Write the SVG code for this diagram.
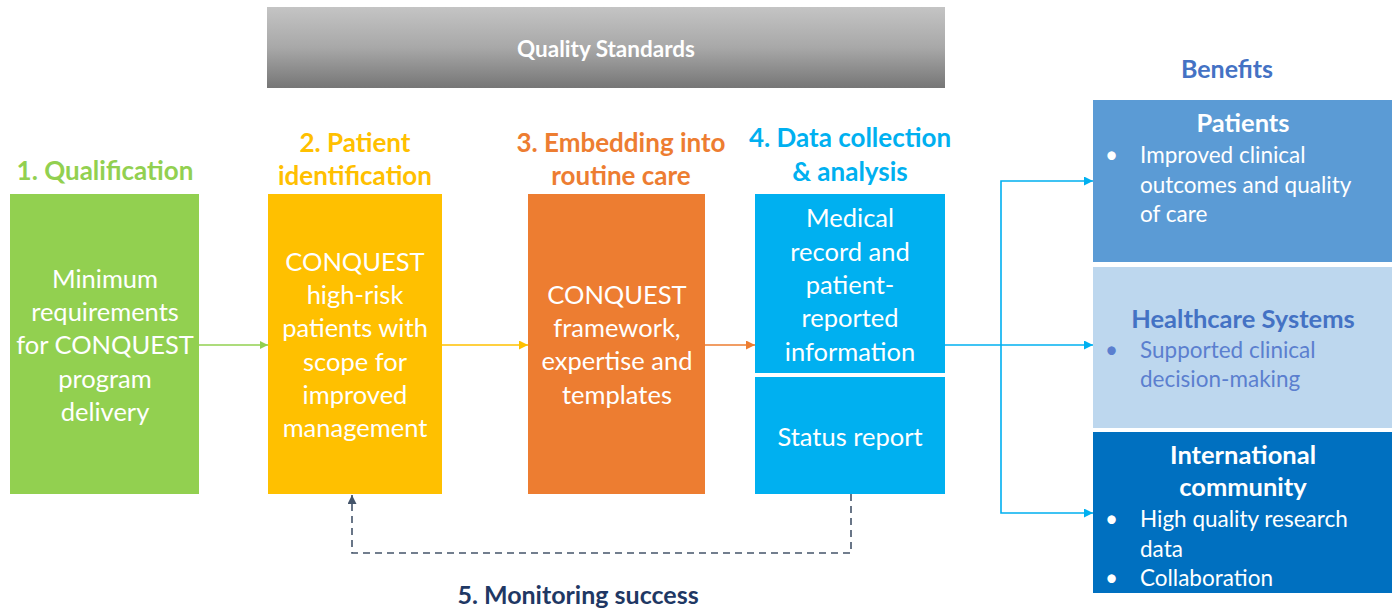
<svg xmlns="http://www.w3.org/2000/svg" width="1397" height="609" viewBox="0 0 1397 609">
<defs>
<linearGradient id="qs" x1="0" y1="0" x2="0" y2="1">
<stop offset="0" stop-color="#c4c4c4"/>
<stop offset="0.5" stop-color="#a8a8a8"/>
<stop offset="1" stop-color="#767676"/>
</linearGradient>
<marker id="ag" viewBox="0 0 10 10" refX="10" refY="5" markerWidth="8" markerHeight="8" markerUnits="userSpaceOnUse" orient="auto"><path d="M0,0 L10,5 L0,10 z" fill="#92d050"/></marker>
<marker id="ay" viewBox="0 0 10 10" refX="10" refY="5" markerWidth="9" markerHeight="9" markerUnits="userSpaceOnUse" orient="auto"><path d="M0,0 L10,5 L0,10 z" fill="#ffc000"/></marker>
<marker id="ao" viewBox="0 0 10 10" refX="10" refY="5" markerWidth="9" markerHeight="9" markerUnits="userSpaceOnUse" orient="auto"><path d="M0,0 L10,5 L0,10 z" fill="#ed7d31"/></marker>
<marker id="ab" viewBox="0 0 10 10" refX="10" refY="5" markerWidth="9" markerHeight="9" markerUnits="userSpaceOnUse" orient="auto"><path d="M0,0 L10,5 L0,10 z" fill="#00b0f0"/></marker>
<marker id="an" viewBox="0 0 10 10" refX="10" refY="5" markerWidth="9" markerHeight="9" markerUnits="userSpaceOnUse" orient="auto"><path d="M0,0 L10,5 L0,10 z" fill="#44546a"/></marker>
</defs>
<style>
text{font-family:Lato,"Liberation Sans",sans-serif}
.h{font-size:26px;font-weight:bold;text-anchor:middle}
.b{font-size:25.5px;fill:#ffffff;text-anchor:middle}
.bt{font-size:25.5px;font-weight:bold;text-anchor:middle}
.bl{font-size:22.5px}
.c{fill:none;stroke-width:1.6}
</style>
<rect width="1397" height="609" fill="#ffffff"/>

<g id="quality">
<rect x="267" y="7" width="678" height="81" fill="url(#qs)"/>
<text x="606" y="57" font-size="22.5" font-weight="bold" fill="#ffffff" text-anchor="middle">Quality Standards</text>
</g>

<g id="n1">
<text class="h" x="105" y="180" fill="#92d050">1. Qualification</text>
<rect x="10" y="194" width="189" height="300" fill="#92d050"/>
<text class="b" x="105" y="288">Minimum</text>
<text class="b" x="105" y="321">requirements</text>
<text class="b" x="105" y="354">for CONQUEST</text>
<text class="b" x="105" y="388">program</text>
<text class="b" x="105" y="421">delivery</text>
</g>

<g id="n2">
<text class="h" x="355" y="152" fill="#ffc000">2. Patient</text>
<text class="h" x="355" y="185" fill="#ffc000">identification</text>
<rect x="268" y="194" width="174" height="300" fill="#ffc000"/>
<text class="b" x="355" y="271">CONQUEST</text>
<text class="b" x="355" y="304">high-risk</text>
<text class="b" x="355" y="337">patients with</text>
<text class="b" x="355" y="371">scope for</text>
<text class="b" x="355" y="404">improved</text>
<text class="b" x="355" y="437">management</text>
</g>

<g id="n3">
<text class="h" x="621" y="152" fill="#ed7d31">3. Embedding into</text>
<text class="h" x="621" y="185" fill="#ed7d31">routine care</text>
<rect x="528" y="194" width="177" height="300" fill="#ed7d31"/>
<text class="b" x="617" y="304">CONQUEST</text>
<text class="b" x="617" y="337">framework,</text>
<text class="b" x="617" y="370">expertise and</text>
<text class="b" x="617" y="404">templates</text>
</g>

<g id="n4">
<text class="h" x="850" y="147" fill="#00b0f0">4. Data collection</text>
<text class="h" x="850" y="181" fill="#00b0f0">&amp; analysis</text>
<rect x="755" y="194" width="190" height="179" fill="#00b0f0"/>
<text class="b" x="850" y="227">Medical</text>
<text class="b" x="850" y="261">record and</text>
<text class="b" x="850" y="294">patient-</text>
<text class="b" x="850" y="327">reported</text>
<text class="b" x="850" y="361">information</text>
</g>

<g id="n4b">
<rect x="755" y="377" width="190" height="117" fill="#00b0f0"/>
<text class="b" x="850" y="446">Status report</text>
</g>

<g id="benefits-title">
<text x="1227" y="78" font-size="25" font-weight="bold" fill="#4472c4" text-anchor="middle">Benefits</text>
</g>

<g id="patients">
<rect x="1093" y="100" width="299" height="162" fill="#5b9bd5"/>
<text class="bt" x="1243" y="132" fill="#ffffff">Patients</text>
<g class="bl" fill="#ffffff">
<text x="1105" y="163">•</text>
<text x="1140" y="163">Improved clinical</text>
<text x="1140" y="193">outcomes and quality</text>
<text x="1140" y="222">of care</text>
</g>
</g>

<g id="healthcare">
<rect x="1093" y="267" width="299" height="161" fill="#bdd7ee"/>
<text class="bt" x="1243" y="328" fill="#4472c4">Healthcare Systems</text>
<g class="bl" fill="#5b7fcf">
<text x="1105" y="358">•</text>
<text x="1140" y="358">Supported clinical</text>
<text x="1140" y="387">decision-making</text>
</g>
</g>

<g id="international">
<rect x="1093" y="432" width="299" height="161" fill="#0070c0"/>
<text class="bt" x="1243" y="464" fill="#ffffff">International</text>
<text class="bt" x="1243" y="496" fill="#ffffff">community</text>
<g class="bl" fill="#ffffff">
<text x="1105" y="527">•</text>
<text x="1140" y="527">High quality research</text>
<text x="1140" y="557">data</text>
<text x="1105" y="586">•</text>
<text x="1140" y="586">Collaboration</text>
</g>
</g>

<g id="monitoring-label">
<text x="578" y="604" font-size="25" font-weight="bold" fill="#1f3864" text-anchor="middle">5. Monitoring success</text>
</g>

<g id="connectors">
<line class="c" x1="199" y1="345" x2="268" y2="345" stroke="#92d050" marker-end="url(#ag)"/>
<line class="c" x1="442" y1="345" x2="528" y2="345" stroke="#ffc000" marker-end="url(#ay)"/>
<line class="c" x1="705" y1="345" x2="755" y2="345" stroke="#ed7d31" marker-end="url(#ao)"/>
<line class="c" x1="945" y1="345" x2="1093" y2="345" stroke="#00b0f0" marker-end="url(#ab)"/>
<polyline class="c" points="1001,345 1001,181 1093,181" stroke="#00b0f0" marker-end="url(#ab)"/>
<polyline class="c" points="1001,345 1001,513 1093,513" stroke="#00b0f0" marker-end="url(#ab)"/>
<polyline class="c" points="851,494 851,553 352,553 352,495" stroke="#44546a" stroke-dasharray="7,5" marker-end="url(#an)"/>
</g>
</svg>
